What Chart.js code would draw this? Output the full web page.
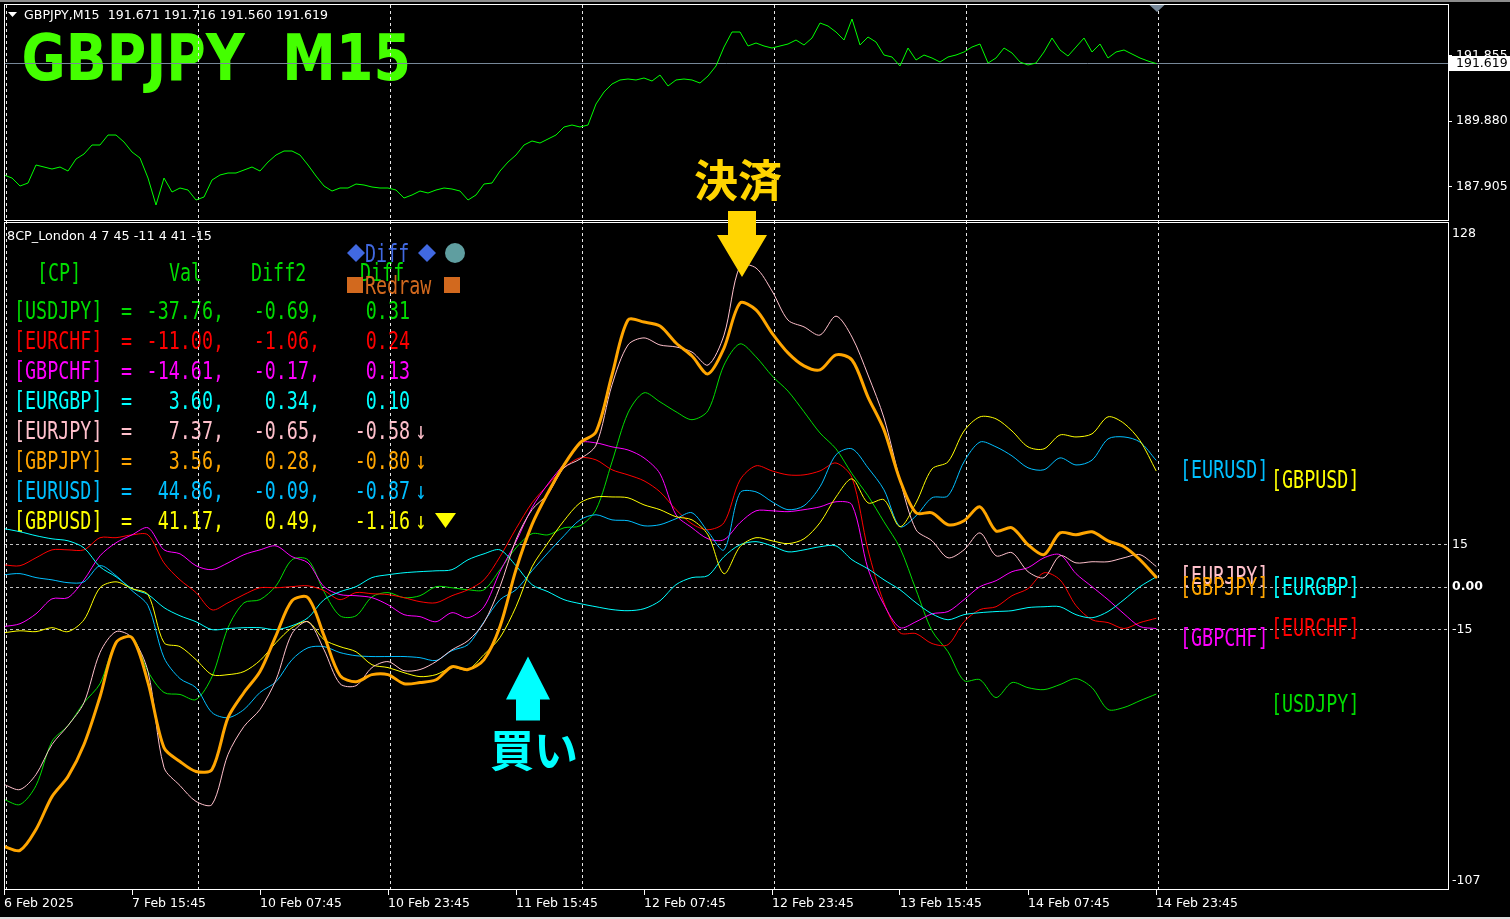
<!DOCTYPE html>
<html>
<head>
<meta charset="utf-8">
<title>GBPJPY M15 - 8CP_London</title>
<script src="https://cdn.jsdelivr.net/npm/chart.js@4.4.0/dist/chart.umd.min.js"></script>
<style>
  html, body { margin: 0; padding: 0; background: #000; }
  canvas { display: block; }
</style>
</head>
<body>
<canvas id="chart" width="1510" height="919"></canvas>

<script type="text/javascript">

	// time axis (M15 bars, 2 px per bar in the original)
	var timeLabels = ['6 Feb 2025', '7 Feb 15:45', '10 Feb 07:45', '10 Feb 23:45', '11 Feb 15:45', '12 Feb 07:45', '12 Feb 23:45', '13 Feb 15:45', '14 Feb 07:45', '14 Feb 23:45'];
	var labelBars = [0, 64, 128, 192, 256, 320, 384, 448, 512, 576];
	var dayBars = [1, 97, 193, 289, 385, 481, 577];
	var lastBar = 576;
	var totalBars = 722;

	// GBPJPY close, one reading every 4 bars
	var priceStep = 4;
	var priceValues = [
		188.258, 188.167, 187.926, 188.016, 188.559, 188.499, 188.438, 188.499, 188.378, 188.740,
		188.891, 189.162, 189.162, 189.463, 189.463, 189.252, 188.951, 188.770, 188.167, 187.353,
		188.167, 187.745, 187.866, 187.805, 187.504, 187.594, 188.107, 188.258, 188.318, 188.318,
		188.408, 188.499, 188.378, 188.649, 188.860, 188.981, 188.981, 188.860, 188.559, 188.227,
		187.926, 187.775, 187.866, 187.866, 187.986, 187.956, 187.896, 187.866, 187.866, 187.805,
		187.564, 187.655, 187.775, 187.715, 187.805, 187.866, 187.835, 187.775, 187.504, 187.655,
		187.986, 188.016, 188.378, 188.649, 188.860, 189.162, 189.283, 189.222, 189.343, 189.463,
		189.705, 189.765, 189.705, 189.765, 190.398, 190.760, 191.001, 191.122, 191.152, 191.122,
		191.182, 191.091, 191.272, 190.941, 191.122, 191.152, 191.122, 191.031, 191.242, 191.544,
		192.116, 192.569, 192.569, 192.147, 192.237, 192.147, 192.086, 192.147, 192.207, 192.327,
		192.177, 192.388, 192.840, 192.750, 192.569, 192.327, 192.961, 192.177, 192.418, 192.267,
		191.875, 191.815, 191.544, 192.086, 191.725, 191.875, 191.785, 191.664, 191.815, 191.875,
		191.966, 192.116, 192.207, 191.634, 191.785, 192.086, 191.936, 191.664, 191.574, 191.634,
		191.966, 192.388, 192.026, 191.845, 192.116, 192.388, 191.966, 192.207, 191.785, 191.966,
		192.026, 191.905, 191.785, 191.694, 191.619
	];
	var ohlc = ['191.671', '191.716', '191.560', '191.619'];
	var lastPrice = 191.619;
	var priceTicks = [191.855, 189.880, 187.905];

	// 8CP strength lines, one reading every 8 bars
	var pairStep = 8;
	var gbpjpy = [
		-91.6, -93.0, -85.6, -74.0, -66.9, -55.6, -38.7, -19.6, -17.8, -33.7,
		-56.7, -61.6, -65.1, -64.4, -46.1, -37.2, -29.8, -17.1, -4.8, -3.7,
		-17.1, -31.2, -33.4, -30.9, -30.9, -34.1, -33.7, -32.7, -28.1, -29.1,
		-25.6, -13.9, 6.2, 22.1, 33.4, 43.2, 51.0, 54.9, 75.0, 94.4,
		93.7, 92.3, 86.3, 81.7, 75.4, 84.5, 100.4, 98.0, 89.8, 82.8,
		78.2, 76.8, 82.1, 80.3, 67.2, 55.6, 37.9, 26.3, 26.3, 22.1,
		23.5, 28.4, 19.9, 21.0, 15.0, 11.5, 19.2, 18.5, 19.6, 16.4,
		14.3, 9.7, 3.6
	];
	var eurjpy = [
		-69.7, -71.5, -66.2, -55.6, -48.9, -40.8, -23.1, -15.7, -17.8, -29.8,
		-63.7, -70.1, -75.7, -76.8, -59.1, -49.2, -43.2, -32.7, -16.4, -12.2,
		-22.1, -34.1, -34.8, -28.4, -26.3, -29.5, -29.1, -26.3, -22.1, -18.9,
		-12.5, 0.2, 16.8, 27.4, 33.0, 42.2, 45.3, 50.2, 71.5, 85.6,
		88.1, 85.6, 84.9, 83.1, 78.5, 89.1, 113.5, 112.8, 104.7, 94.4,
		92.0, 89.1, 95.8, 88.4, 75.0, 59.8, 37.9, 20.3, 16.4, 10.4,
		13.2, 19.2, 11.1, 12.2, 5.5, 3.4, 11.1, 8.6, 9.0, 9.0,
		10.4, 11.5, 7.4
	];
	var usdjpy = [
		-75.0, -76.8, -70.1, -54.5, -48.9, -40.8, -34.1, -19.6, -17.5, -29.8,
		-37.2, -37.9, -39.7, -31.6, -14.3, -5.5, -4.4, 0.5, 9.7, 9.7,
		-1.6, -10.1, -10.1, -3.4, -1.9, -3.7, -3.0, 0.2, -0.2, -0.9,
		-0.9, 6.2, 13.9, 18.9, 18.5, 21.0, 21.7, 27.4, 44.3, 61.6,
		68.7, 65.5, 62.0, 59.2, 62.4, 78.5, 86.0, 81.4, 74.7, 69.3,
		62.0, 54.5, 48.9, 40.1, 32.3, 23.1, 13.9, -0.9, -15.4, -22.8,
		-33.0, -32.7, -39.0, -33.7, -35.5, -36.2, -34.4, -32.3, -35.5, -43.2,
		-42.5, -40.1, -37.8
	];
	var eurchf = [
		7.9, 7.6, 10.4, 13.2, 13.2, 13.2, 17.5, 17.5, 18.5, 18.5,
		8.6, 2.6, -1.9, -8.0, -5.5, -2.6, -0.2, -0.2, 0.2, 0.5,
		-1.2, -4.4, -1.9, -2.3, -2.6, -3.7, -5.1, -5.5, -3.0, -0.9,
		2.6, 10.8, 20.7, 29.8, 36.2, 42.2, 45.7, 45.0, 41.5, 39.7,
		37.6, 33.7, 27.4, 22.4, 20.3, 22.8, 37.9, 42.9, 41.1, 39.7,
		39.7, 41.1, 43.9, 38.7, 13.2, -5.5, -16.1, -16.4, -19.9, -20.3,
		-12.2, -7.9, -6.9, -3.0, -0.5, 5.1, 2.6, -6.5, -11.5, -12.5,
		-14.6, -12.5, -11.0
	];
	var gbpchf = [
		-13.9, -12.9, -9.4, -4.1, -3.7, 2.6, 11.1, 15.7, 18.5, 21.0,
		13.2, 11.8, 7.6, 6.2, 8.6, 11.5, 13.2, 14.6, 10.8, 8.6,
		0.2, -2.6, -3.0, -3.7, -6.2, -9.7, -10.4, -12.2, -9.0, -10.8,
		-6.9, 5.5, 16.1, 28.1, 36.5, 43.6, 51.0, 51.0, 49.6, 48.5,
		45.7, 40.1, 25.6, 21.0, 17.1, 16.8, 22.8, 27.0, 27.0, 26.7,
		27.4, 28.4, 30.2, 29.1, 6.5, -6.2, -14.3, -12.2, -9.4, -8.6,
		-4.4, 0.2, 2.3, 5.5, 6.9, 10.4, 11.5, 4.8, 0.2, -4.4,
		-9.4, -13.9, -14.6
	];
	var eurgbp = [
		20.7, 19.6, 18.2, 17.1, 16.4, 13.9, 7.2, 3.7, -0.5, -2.6,
		-7.2, -10.1, -12.2, -15.0, -14.6, -14.3, -14.3, -15.0, -13.6, -10.8,
		-4.4, -1.6, 0.2, 3.4, 4.4, 5.1, 5.5, 5.8, 6.2, 9.7,
		11.8, 13.2, 7.6, 0.9, -1.6, -4.4, -5.8, -6.9, -7.9, -8.3,
		-7.6, -4.8, 0.9, 3.4, 4.1, 10.8, 15.0, 16.1, 14.6, 12.5,
		13.2, 14.3, 14.6, 9.7, 6.5, 2.6, -0.9, -5.5, -9.4, -11.5,
		-9.7, -9.0, -8.6, -8.3, -7.2, -6.9, -6.9, -9.7, -10.8, -8.6,
		-4.4, 0.2, 3.6
	];
	var eurusd = [
		4.4, 4.8, 3.4, 2.6, 1.6, 1.9, 7.6, 4.1, -1.2, -6.5,
		-24.9, -32.3, -35.5, -44.3, -46.1, -43.2, -37.2, -33.4, -25.6, -21.4,
		-21.0, -23.1, -24.2, -24.5, -24.5, -24.5, -24.9, -25.9, -22.4, -20.3,
		-12.2, -4.4, -0.9, 5.8, 12.2, 18.2, 23.8, 25.6, 23.8, 23.5,
		21.7, 22.1, 24.2, 26.3, 19.6, 13.2, 33.4, 33.7, 30.2, 27.4,
		28.8, 35.5, 46.8, 48.9, 42.2, 34.4, 21.4, 25.2, 31.6, 32.3,
		44.3, 51.3, 49.6, 46.4, 42.2, 41.5, 45.7, 43.2, 44.9, 52.4,
		53.1, 51.3, 44.9
	];
	var gbpusd = [
		-16.1, -15.4, -15.7, -14.3, -15.7, -11.5, -0.2, 1.9, -0.5, -2.6,
		-19.6, -21.0, -25.6, -30.9, -30.9, -29.8, -25.9, -19.6, -14.3, -12.2,
		-18.5, -21.0, -22.8, -27.4, -28.4, -30.2, -31.6, -30.9, -28.4, -29.1,
		-23.8, -17.8, -6.9, 7.2, 15.7, 23.5, 29.8, 31.9, 31.9, 31.6,
		29.1, 27.4, 24.9, 23.8, 18.5, 4.8, 14.3, 17.5, 16.4, 15.4,
		17.1, 22.8, 31.9, 38.3, 29.8, 30.9, 21.4, 29.8, 41.8, 44.3,
		55.2, 60.2, 59.5, 55.2, 49.6, 48.9, 53.8, 53.1, 54.2, 60.2,
		57.9, 51.8, 41.2
	];
	var levelTicks = [15, 0, -15];
	var levelTop = 128;
	var levelBottom = -107;

	// table at the top left of the indicator window
	var pairNames = ['USDJPY', 'EURCHF', 'GBPCHF', 'EURGBP', 'EURJPY', 'GBPJPY', 'EURUSD', 'GBPUSD'];
	var tableVal = ['-37.76', '-11.00', '-14.61', '3.60', '7.37', '3.56', '44.86', '41.17'];
	var tableDiff2 = ['-0.69', '-1.06', '-0.17', '0.34', '-0.65', '0.28', '-0.09', '0.49'];
	var tableDiff = ['0.31', '0.24', '0.13', '0.10', '-0.58', '-0.80', '-0.87', '-1.16'];

	// trade marks
	var buyBar = 262, buyLevel = -24.5;
	var exitBar = 369, exitLevel = 109.6;

	var pairSeries = { USDJPY: usdjpy, EURCHF: eurchf, GBPCHF: gbpchf, EURGBP: eurgbp, EURJPY: eurjpy, GBPJPY: gbpjpy, EURUSD: eurusd, GBPUSD: gbpusd };
	var pairColors = { USDJPY: '#00dd00', EURCHF: '#ff0000', GBPCHF: '#ff00ff', EURGBP: '#00ffff', EURJPY: '#ffc0cb', GBPJPY: '#ffa500', EURUSD: '#00bfff', GBPUSD: '#ffff00' };
	var drawOrder = ['GBPJPY', 'EURJPY', 'GBPUSD', 'EURUSD', 'EURGBP', 'GBPCHF', 'EURCHF', 'USDJPY'];
	var tagOrder = ['EURUSD', 'GBPUSD', 'EURJPY', 'GBPJPY', 'EURGBP', 'EURCHF', 'GBPCHF', 'USDJPY'];
	var tagRightColumn = { EURUSD: false, GBPUSD: true, EURJPY: false, GBPJPY: false, EURGBP: true, EURCHF: true, GBPCHF: false, USDJPY: true };

	function toPoints(values, step) {
		return values.map(function (v, i) { return { x: i * step, y: v }; });
	}

	var datasets = drawOrder.map(function (name) {
		return {
			label: name,
			data: toPoints(pairSeries[name], pairStep),
			yAxisID: 'yi',
			borderColor: pairColors[name],
			borderWidth: name === 'GBPJPY' ? 3 : 1,
			tension: 0.3,
			pointRadius: 0,
			fill: false
		};
	});
	datasets.push({
		label: 'GBPJPY',
		data: toPoints(priceValues, priceStep),
		yAxisID: 'yp',
		borderColor: '#00ff00',
		borderWidth: 1,
		tension: 0,
		pointRadius: 0,
		fill: false
	});
	datasets.push({
		label: 'Bid',
		data: [{ x: 0, y: lastPrice }, { x: totalBars, y: lastPrice }],
		yAxisID: 'yp',
		borderColor: '#778899',
		borderWidth: 1,
		pointRadius: 0,
		fill: false
	});

	// text helpers
	var MONO = '24px "DejaVu Sans Mono"';
	var MONO_SX = 0.765;
	function monoText(c, text, x, y, color, align) {
		c.save();
		c.font = MONO;
		c.fillStyle = color;
		c.textBaseline = 'middle';
		c.textAlign = 'left';
		var w = c.measureText(text).width * MONO_SX;
		var left = x;
		if (align === 'right') left = x - w;
		if (align === 'center') left = x - w / 2;
		c.translate(left, y + 2.5);
		c.scale(MONO_SX, 1);
		c.fillText(text, 0, 0);
		c.restore();
	}

	function fitText(c, text, x, y, width, font, color) {
		c.save();
		c.font = font;
		c.fillStyle = color;
		c.textBaseline = 'middle';
		c.textAlign = 'left';
		var w = c.measureText(text).width;
		c.translate(x, y);
		c.scale(width / w, 1);
		c.fillText(text, 0, 0);
		c.restore();
	}

	function triangle(c, x1, y1, x2, y2, x3, y3, color) {
		c.fillStyle = color;
		c.beginPath();
		c.moveTo(x1, y1); c.lineTo(x2, y2); c.lineTo(x3, y3);
		c.closePath();
		c.fill();
	}

	function blockArrow(c, x, tipY, dir, headH, headHalf, shaftHalf, shaftLen, color) {
		var baseY = tipY - dir * headH;
		var endY = baseY - dir * shaftLen;
		c.fillStyle = color;
		c.beginPath();
		c.moveTo(x, tipY);
		c.lineTo(x + headHalf, baseY);
		c.lineTo(x + shaftHalf, baseY);
		c.lineTo(x + shaftHalf, endY);
		c.lineTo(x - shaftHalf, endY);
		c.lineTo(x - shaftHalf, baseY);
		c.lineTo(x - headHalf, baseY);
		c.closePath();
		c.fill();
	}

	function diamond(c, x, y, r, color) {
		c.fillStyle = color;
		c.beginPath();
		c.moveTo(x, y - r); c.lineTo(x + r, y); c.lineTo(x, y + r); c.lineTo(x - r, y);
		c.closePath();
		c.fill();
	}

	// keep the stacked windows flush with the layout padding
	function noPadding(s) {
		s.paddingTop = 0; s.paddingBottom = 0; s.paddingLeft = 0; s.paddingRight = 0;
	}

	var mtPlugin = {
		id: 'mt4',
		beforeDraw: function (chart) {
			var c = chart.ctx;
			c.save();
			c.fillStyle = '#000';
			c.fillRect(0, 0, chart.width, chart.height);
			c.fillStyle = '#8c8c8c';
			c.fillRect(0, 0, chart.width, 2);
			c.fillStyle = '#dcdcdc';
			c.fillRect(0, chart.height - 2, chart.width, 2);

			// price window caption
			triangle(c, 8, 12, 17, 12, 12.5, 17, '#ffffff');
			fitText(c, 'GBPJPY,M15  ' + ohlc.join(' '), 24, 16, 304, '13px "DejaVu Sans"', '#ffffff');

			// big symbol title
			c.save();
			c.font = 'bold 64px "DejaVu Sans"';
			var m = c.measureText('GBPJPY  M15');
			var ink = m.actualBoundingBoxLeft + m.actualBoundingBoxRight;
			c.translate(24, 80);
			c.scale(384 / ink, 1);
			c.fillStyle = '#44ff00';
			c.textBaseline = 'alphabetic';
			c.fillText('GBPJPY  M15', m.actualBoundingBoxLeft, 0);
			c.restore();

			// indicator caption and table
			fitText(c, '8CP_London 4 7 45 -11 4 41 -15', 7, 237, 205, '13px "DejaVu Sans"', '#ffffff');

			var head = '#00dd00';
			monoText(c, '[CP]', 37, 272, head);
			monoText(c, 'Val', 169, 272, head);
			monoText(c, 'Diff2', 251, 272, head);
			monoText(c, 'Diff', 360, 272, head);

			diamond(c, 356, 253, 9, '#4169e1');
			monoText(c, 'Diff', 365, 253, '#4169e1');
			diamond(c, 427, 253, 9, '#4169e1');
			c.fillStyle = '#5f9ea0';
			c.beginPath(); c.arc(455, 253, 10, 0, Math.PI * 2); c.fill();
			c.fillStyle = '#d2691e';
			c.fillRect(347, 277, 16, 16);
			c.fillRect(444, 277, 16, 16);
			monoText(c, 'Redraw', 365, 285, '#d2691e');

			pairNames.forEach(function (name, i) {
				var y = 310 + 30 * i;
				var col = pairColors[name];
				monoText(c, '[' + name + ']', 14, y, col);
				monoText(c, '=', 121, y, col);
				monoText(c, tableVal[i] + ',', 224, y, col, 'right');
				monoText(c, tableDiff2[i] + ',', 320, y, col, 'right');
				monoText(c, tableDiff[i], 410, y, col, 'right');
				if (parseFloat(tableDiff[i]) < 0) {
					monoText(c, '\u2193', 421, y, col, 'center');
				}
			});
			triangle(c, 435, 513, 456, 513, 445.5, 528, '#ffff00');
			c.restore();
		},
		afterDatasetsDraw: function (chart) {
			var c = chart.ctx;
			var area = chart.chartArea;
			var xs = chart.scales.x, yp = chart.scales.yp, yi = chart.scales.yi;
			c.save();

			// window frames
			c.strokeStyle = '#ffffff';
			c.lineWidth = 1;
			c.strokeRect(area.left + 0.5, yp.top - 0.5, area.right - area.left, yp.bottom - yp.top - 1);
			c.strokeRect(area.left + 0.5, yi.top + 0.5, area.right - area.left, yi.bottom - yi.top - 1);

			// chart shift marker
			var lx = xs.getPixelForValue(lastBar) + 1;
			triangle(c, lx - 7.5, yp.top, lx + 7.5, yp.top, lx, yp.top + 7, '#778899');

			// bid label box
			var by = yp.getPixelForValue(lastPrice);
			c.fillStyle = '#ffffff';
			c.fillRect(area.right + 1, by - 7.5, chart.width - area.right - 1, 15);
			c.fillStyle = '#000000';
			c.font = '12.5px "DejaVu Sans"';
			c.textBaseline = 'middle';
			c.textAlign = 'left';
			c.fillText(lastPrice.toFixed(3), area.right + 8, by);

			// indicator window range labels
			c.fillStyle = '#ffffff';
			c.fillText(String(levelTop), area.right + 4, yi.getPixelForValue(levelTop) + 9);
			c.fillText(String(levelBottom), area.right + 4, yi.getPixelForValue(levelBottom) - 9);

			// pair tags at the right of the last bar
			tagOrder.forEach(function (name) {
				var vals = pairSeries[name];
				var ty = yi.getPixelForValue(vals[vals.length - 1]) + 9;
				var tx = lx + (tagRightColumn[name] ? 114 : 23);
				monoText(c, '[' + name + ']', tx, ty, pairColors[name]);
			});

			// exit mark
			var ex = xs.getPixelForValue(exitBar);
			var et = yi.getPixelForValue(exitLevel);
			blockArrow(c, ex, et, 1, 42, 25, 14, 24, '#ffd400');
			c.font = 'bold 44px "Noto Sans CJK JP"';
			c.textAlign = 'center';
			c.textBaseline = 'middle';
			c.fillStyle = '#ffd400';
			c.fillText('決済', ex - 4, et - 97);

			// buy mark
			var bx = xs.getPixelForValue(buyBar);
			var bt = yi.getPixelForValue(buyLevel);
			blockArrow(c, bx, bt, -1, 43, 22, 12, 21, '#00ffff');
			c.fillStyle = '#00ffff';
			c.fillText('買い', bx + 6, bt + 94);

			c.restore();
		}
	};

	var ctx = document.getElementById('chart').getContext('2d');
	var chart = new Chart(ctx, {
		type: 'line',
		data: { datasets: datasets },
		options: {
			responsive: false,
			animation: false,
			devicePixelRatio: 1,
			events: [],
			layout: { padding: { left: 4, top: 5, right: 0, bottom: 0 } },
			plugins: {
				legend: { display: false },
				tooltip: { enabled: false },
				title: { display: false }
			},
			elements: { point: { radius: 0 }, line: { borderJoinStyle: 'round', borderCapStyle: 'round' } },
			scales: {
				x: {
					type: 'linear',
					position: 'bottom',
					min: 0,
					max: totalBars,
					afterBuildTicks: function (s) { s.ticks = labelBars.map(function (b) { return { value: b }; }); },
					afterFit: function (s) { s.height = 29; noPadding(s); },
					ticks: {
						autoSkip: false,
						maxRotation: 0,
						align: 'start',
						padding: 1,
						color: '#ffffff',
						font: { family: 'DejaVu Sans', size: 12.5 },
						callback: function (v, i) { return timeLabels[i]; }
					},
					grid: { drawOnChartArea: false, drawTicks: true, tickLength: 5, color: '#ffffff' },
					border: { display: false }
				},
				xd: {
					type: 'linear',
					position: 'bottom',
					min: 0,
					max: totalBars,
					afterBuildTicks: function (s) { s.ticks = dayBars.map(function (b) { return { value: b }; }); },
					afterFit: function (s) { s.height = 0; noPadding(s); },
					ticks: { display: false },
					grid: { color: '#e6e6e6', lineWidth: 1, drawTicks: false },
					border: { display: false, dash: [3, 3] }
				},
				yp: {
					type: 'linear',
					position: 'right',
					stack: 'windows',
					stackWeight: 217,
					min: 186.841,
					max: 193.383,
					afterBuildTicks: function (s) { s.ticks = priceTicks.map(function (v) { return { value: v }; }); },
					afterFit: function (s) { s.width = 62; noPadding(s); },
					ticks: {
						padding: 4,
						color: '#ffffff',
						font: { family: 'DejaVu Sans', size: 12.5 },
						callback: function (v) { return v.toFixed(3); }
					},
					grid: { drawOnChartArea: false, drawTicks: true, tickLength: 4, color: '#ffffff' },
					border: { display: false }
				},
				yi: {
					type: 'linear',
					position: 'right',
					stack: 'windows',
					stackWeight: 668,
					min: levelBottom,
					max: 129.06,
					afterBuildTicks: function (s) { s.ticks = levelTicks.map(function (v) { return { value: v }; }); },
					afterFit: function (s) { s.width = 62; noPadding(s); },
					ticks: {
						padding: 4,
						color: '#ffffff',
						font: function (c) {
							return { family: 'DejaVu Sans', size: 12.5, weight: (c.tick && c.tick.value === 0) ? 'bold' : 'normal' };
						},
						callback: function (v) { return v === 0 ? '0.00' : String(v); }
					},
					grid: { color: '#c0c0c0', lineWidth: 1, drawTicks: false },
					border: { display: false, dash: [3, 3] }
				}
			}
		},
		plugins: [mtPlugin]
	});

</script>
</body>
</html>
